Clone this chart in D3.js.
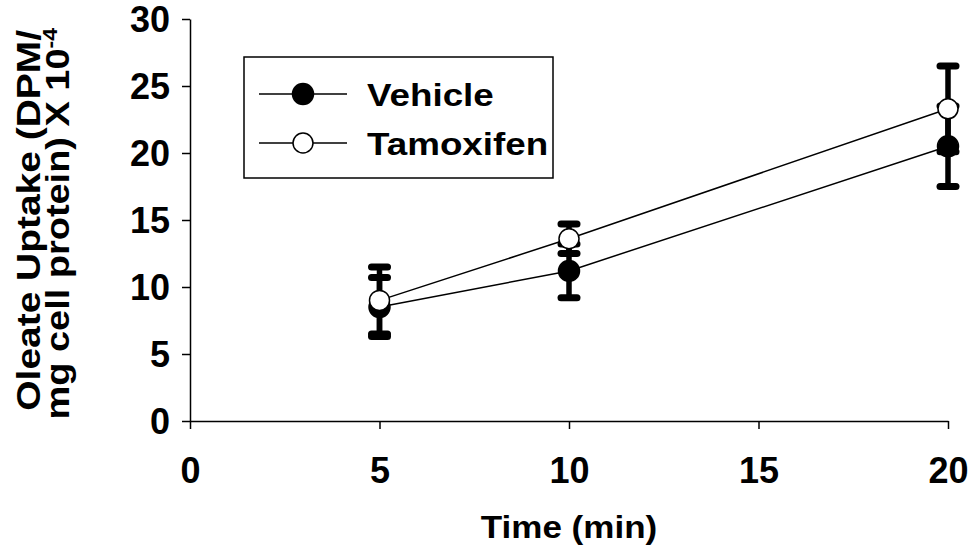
<!DOCTYPE html>
<html>
<head>
<meta charset="utf-8">
<script src="https://cdn.jsdelivr.net/npm/d3@7"></script>
<style>
    body { margin: 0; background: #fff; }
    text { font-family: "Liberation Sans", Arial, sans-serif; font-weight: bold; fill: #000; }
</style>
</head>
<body>
<div id="chart"></div>
<script>
// data
const times = [5, 10, 20];
const vehicleMean = [8.5, 11.2, 20.5];
const vehicleErr = [2.2, 2.0, 3.0];
const tamoxifenMean = [9.0, 13.6, 23.3];
const tamoxifenErr = [2.5, 1.1, 3.2];
const xTicks = [0, 5, 10, 15, 20];
const yTicks = [0, 5, 10, 15, 20, 25, 30];
const seriesNames = ["Vehicle", "Tamoxifen"];

const width = 974, height = 558;
const margin = { top: 19, right: 26, bottom: 137, left: 190 };

let svg = d3.select("#chart").append("svg")
    .attr("width", width)
    .attr("height", height);

let x = d3.scaleLinear()
    .domain([0, 20])
    .range([margin.left, width - margin.right]);

let y = d3.scaleLinear()
    .domain([0, 30])
    .range([height - margin.bottom, margin.top]);

// the figure's lettering is a bit wider than plain Arial, so stretch it along the baseline
function wideText(parent, transform, size, stretch) {
    return parent.append("text")
        .attr("transform", transform + " scale(" + stretch + ",1)")
        .style("font-size", size + "px");
}

// axes
let xAxis = svg.append("g")
    .attr("transform", "translate(0," + y(0) + ")")
    .call(d3.axisBottom(x).tickValues(xTicks).tickSize(8).tickSizeOuter(0).tickPadding(28));

let yAxis = svg.append("g")
    .attr("transform", "translate(" + x(0) + ",0)")
    .call(d3.axisLeft(y).tickValues(yTicks).tickSize(8).tickSizeOuter(0).tickPadding(12));

[xAxis, yAxis].forEach(g => {
    g.select(".domain").attr("stroke", "#000").attr("stroke-width", 1.5);
    g.selectAll(".tick line").attr("stroke", "#000").attr("stroke-width", 1.5);
    g.selectAll(".tick text")
        .attr("fill", "#000")
        .style("font-size", "36px")
        .style("font-family", "'Liberation Sans', Arial, sans-serif")
        .style("font-weight", "bold");
});
yAxis.selectAll(".tick text").attr("dy", "0.36em");

// axis titles
wideText(svg, "translate(" + (x(0) + x(20)) / 2 + ",538)", 31, 1.13)
    .attr("text-anchor", "middle")
    .text("Time (min)");

wideText(svg, "translate(40,30) rotate(-90)", 33, 1.18)
    .attr("text-anchor", "end")
    .text("Oleate Uptake (DPM/");

let line2 = wideText(svg, "translate(69,28) rotate(-90)", 33, 1.15)
    .attr("text-anchor", "end");
line2.append("tspan").text("mg cell protein) X 10");
line2.append("tspan")
    .attr("dy", -12)
    .style("font-size", "20px")
    .text("-4");

// one series: connecting line, error bars, markers
function drawSeries(means, errs, filled) {
    let g = svg.append("g");
    let pts = times.map((t, i) => ({ t: t, m: means[i], e: errs[i] }));

    g.append("path")
        .datum(pts)
        .attr("fill", "none")
        .attr("stroke", "#000")
        .attr("stroke-width", 1.5)
        .attr("d", d3.line().x(d => x(d.t)).y(d => y(d.m)));

    g.selectAll(".err")
        .data(pts)
        .enter()
        .append("line")
        .attr("x1", d => x(d.t))
        .attr("x2", d => x(d.t))
        .attr("y1", d => y(d.m - d.e))
        .attr("y2", d => y(d.m + d.e))
        .attr("stroke", "#000")
        .attr("stroke-width", 5.5);

    let caps = [];
    pts.forEach(d => { caps.push({ t: d.t, v: d.m - d.e }); caps.push({ t: d.t, v: d.m + d.e }); });
    g.selectAll(".cap")
        .data(caps)
        .enter()
        .append("line")
        .attr("x1", d => x(d.t) - 8)
        .attr("x2", d => x(d.t) + 8)
        .attr("y1", d => y(d.v))
        .attr("y2", d => y(d.v))
        .attr("stroke", "#000")
        .attr("stroke-width", 7)
        .attr("stroke-linecap", "round");

    g.selectAll(".dot")
        .data(pts)
        .enter()
        .append("circle")
        .attr("cx", d => x(d.t))
        .attr("cy", d => y(d.m))
        .attr("r", filled ? 10.5 : 10)
        .attr("fill", filled ? "#000" : "#fff")
        .attr("stroke", "#000")
        .attr("stroke-width", 1.5);
}

drawSeries(vehicleMean, vehicleErr, true);
drawSeries(tamoxifenMean, tamoxifenErr, false);

// legend
let legend = svg.append("g");
legend.append("rect")
    .attr("x", 244)
    .attr("y", 57)
    .attr("width", 309)
    .attr("height", 121)
    .attr("fill", "#fff")
    .attr("stroke", "#000")
    .attr("stroke-width", 1.5);

seriesNames.forEach((name, i) => {
    let ly = 94 + i * 49;
    legend.append("line")
        .attr("x1", 259).attr("x2", 347)
        .attr("y1", ly).attr("y2", ly)
        .attr("stroke", "#000")
        .attr("stroke-width", 1.5);
    legend.append("circle")
        .attr("cx", 303).attr("cy", ly)
        .attr("r", i == 0 ? 10.5 : 10)
        .attr("fill", i == 0 ? "#000" : "#fff")
        .attr("stroke", "#000")
        .attr("stroke-width", 1.5);
    wideText(legend, "translate(367," + (ly + 12) + ")", 32, 1.15)
        .text(name);
});
</script>
</body>
</html>
